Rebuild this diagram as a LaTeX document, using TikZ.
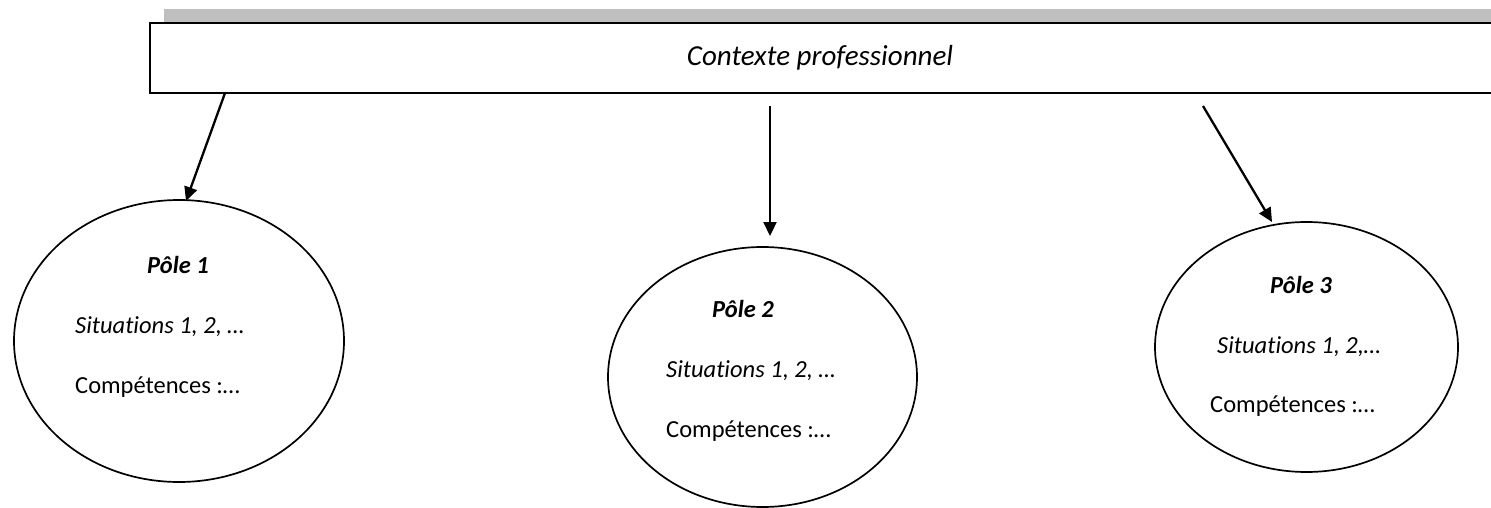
\documentclass[tikz,border=0pt]{standalone}
\usepackage{fontspec}
\setmainfont[Ligatures=NoCommon]{Carlito}
\usetikzlibrary{arrows.meta,shapes.geometric}
\begin{document}
\begin{tikzpicture}[x=1pt,y=-1pt,
  ctxbox/.style={draw=black,line width=2.4pt,rectangle,inner sep=0pt,fill=white},
  pole/.style={draw=black,line width=1.7pt,ellipse,inner sep=0pt},
  arr/.style={line width=2.3pt,-{Triangle[length=14pt,width=13pt]}},
  ttl/.style={font=\fontsize{24.5}{28}\selectfont\bfseries\itshape,anchor=base west,inner sep=0pt},
  sit/.style={font=\fontsize{24.5}{28}\selectfont\itshape,anchor=base west,inner sep=0pt},
  comp/.style={font=\fontsize{24.5}{28}\selectfont,anchor=base west,inner sep=0pt}]
\useasboundingbox (0,0) rectangle (1491,508);
\clip (0,0) rectangle (1491,508);
% shadow bar
\fill[fill={rgb,255:red,191;green,191;blue,191}] (164,9) rectangle (1500,23);
% context box
\node[ctxbox,minimum width=1350pt,minimum height=70pt] (ctx) at (825,58) {};
\node[font=\fontsize{29}{34}\selectfont\itshape,inner sep=0pt] (ctxt) at (820,58) {Contexte professionnel};
% ellipses
\node[pole,minimum width=330pt,minimum height=282pt] (p1) at (179,341) {};
\node[pole,minimum width=309pt,minimum height=260pt] (p2) at (762.5,377) {};
\node[pole,minimum width=303pt,minimum height=250pt] (p3) at (1306.5,347) {};
% texts
\node[ttl]  (t1) at (147,273) {Pôle 1};
\node[sit]  (s1) at (75,333) {Situations 1, 2, …};
\node[comp] (c1) at (75,393) {Compétences :…};
\node[ttl]  (t2) at (712,317) {Pôle 2};
\node[sit]  (s2) at (666,377) {Situations 1, 2, …};
\node[comp] (c2) at (666,437) {Compétences :…};
\node[ttl]  (t3) at (1270,293) {Pôle 3};
\node[sit]  (s3) at (1217,353) {Situations 1, 2,…};
\node[comp] (c3) at (1210,412) {Compétences :…};
% arrow endpoints
\coordinate (a1s) at (225,93);
\coordinate (a1e) at (186,201);
\coordinate (a2s) at (770,106);
\coordinate (a2e) at (770,236);
\coordinate (a3s) at (1203,106);
\coordinate (a3e) at (1272,222);
\draw[arr] (a1s) -- (a1e);
\draw[arr] (a2s) -- (a2e);
\draw[arr] (a3s) -- (a3e);
\end{tikzpicture}
\end{document}
